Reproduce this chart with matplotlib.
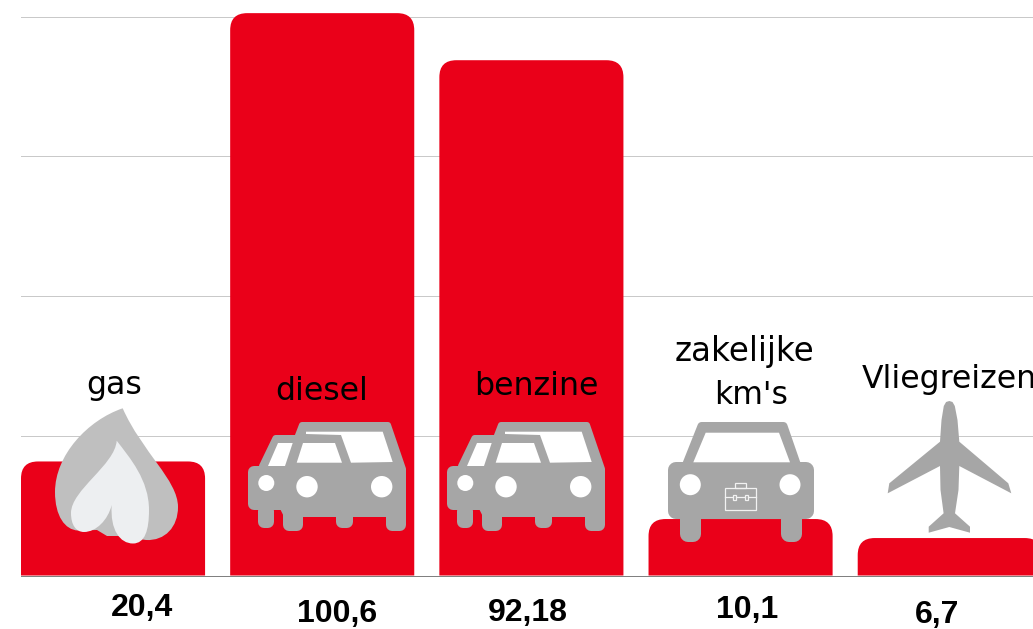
import numpy as np
import matplotlib
matplotlib.use('Agg')
import matplotlib.pyplot as plt
from matplotlib.path import Path
from matplotlib.patches import PathPatch, Polygon, Circle, Rectangle

categories = ['gas', 'diesel', 'benzine', 'zakelijke', "km's", 'Vliegreizen']
values = [20.4, 100.6, 92.18, 10.1, 6.7]
y_ticks = [0, 25, 50, 75, 100]

# where the texts sit (centre x, baseline y), in picture pixels
name_pos = [(114.5, 394), (322, 400.5), (536.5, 395), (745, 360.5), (751, 403.5), (949, 388)]
name_size = [22.7, 22.7, 22.7, 23.5, 22.7, 22.7]
value_pos = [(142, 616), (337.5, 622), (528, 621.5), (747, 618), (937, 622.5)]

RED = '#ea0019'
GREY = '#a6a6a6'
W, H = 1033, 629
BASE = 575.5

fig = plt.figure(figsize=(W / 100, H / 100), dpi=100)
ax = fig.add_axes([21 / W, (H - BASE) / H, (W - 21) / W, BASE / H])
ax.set_xlim(-0.44, 4.398)
ax.set_ylim(0, BASE / 5.59)


def rounded_bar(x, h, width=0.88, r=17):
    rx, ry = r / 209.2, r / 5.59
    l, t = x - width / 2, x + width / 2
    verts = [(l, 0), (l, h - ry), (l, h), (l + rx, h), (t - rx, h), (t, h), (t, h - ry), (t, 0), (l, 0)]
    codes = [Path.MOVETO, Path.LINETO, Path.CURVE3, Path.CURVE3, Path.LINETO, Path.CURVE3, Path.CURVE3, Path.LINETO, Path.CLOSEPOLY]
    return PathPatch(Path(verts, codes), fc=RED, ec='none', zorder=3)


for i, v in enumerate(values):
    ax.add_patch(rounded_bar(i, v))

ax.set_yticks(y_ticks)
ax.set_xticks([])
ax.tick_params(left=False, labelleft=False)
ax.grid(axis='y', color='#c9c9c9', lw=0.72)
ax.set_axisbelow(True)
for s in ['top', 'left', 'right']:
    ax.spines[s].set_visible(False)
ax.spines['bottom'].set_color('#808080')
ax.spines['bottom'].set_linewidth(0.72)

# overlay in picture pixels for the icons and texts
ov = fig.add_axes([0, 0, 1, 1], facecolor='none')
ov.set_xlim(0, W)
ov.set_ylim(H, 0)
ov.axis('off')


def shape(pts, dx=0, color=GREY, r=0, z=5):
    # r is the corner radius in pixels, made with a round stroke
    pts = [(x + dx, y) for x, y in pts]
    ov.add_patch(Polygon(pts, closed=True, fc=color, ec=color if r else 'none', lw=2 * r * 0.72, joinstyle='round', zorder=z))


def rrect(x0, y0, x1, y1, r, dx=0):
    shape([(x0 + r, y0 + r), (x1 - r, y0 + r), (x1 - r, y1 - r), (x0 + r, y1 - r)], dx, r=r)


# flame
M, C, L, Z = Path.MOVETO, Path.CURVE4, Path.LINETO, Path.CLOSEPOLY
outer = [(122.7, 408.3), (88, 420), (55, 455), (55, 492), (55, 516), (65, 530), (78, 530.5), (97, 530), (107, 536), (120, 536),
         (146, 540), (165, 541), (178, 527), (178, 507), (178, 480), (142, 452), (122.7, 408.3)]
outer_c = [M, C, C, C, C, C, C, L, L, L, L, C, C, C, C, C, C]
ov.add_patch(PathPatch(Path(outer, outer_c), fc='#bfbfbf', ec='none', zorder=5))
inner = [(116.7, 440.7), (115, 465), (71, 490), (71, 513), (71, 525), (76, 532), (84, 532), (96, 532), (108, 520), (111.7, 505),
         (110, 530), (120, 543.5), (133, 543.5), (145, 543.5), (149, 530), (149, 510), (149, 480), (130, 458), (116.7, 440.7)]
inner_c = [M] + [C] * 18
ov.add_patch(PathPatch(Path(inner, inner_c), fc='#edeff1', ec='none', zorder=5))


# two cars, drawn for diesel and again for benzine
def two_cars(dx):
    rrect(248, 466, 295, 510, 6, dx)
    shape([(302, 425), (388, 425), (403, 469), (403, 514), (286, 514), (262, 466), (275.5, 438), (297, 438)], dx, r=3)
    for x0, x1, bot in [(258, 274, 528), (283, 303, 531), (336, 353, 528), (385.7, 406, 531)]:
        rrect(x0, 505, x1, bot, 6, dx)
    shape([(268, 466), (278, 443), (292.7, 443), (285, 466)], dx, 'white', z=6)
    shape([(296.7, 462.7), (303, 443), (335, 443), (342, 462.7)], dx, 'white', z=6)
    shape([(306, 431.7), (382.7, 431.7), (392.7, 462), (351, 462.7), (341, 435), (306, 434)], dx, 'white', z=6)
    for cx, cy, rad in [(266.3, 483, 8), (307, 486.7, 10.7), (381.7, 486.7, 10.7)]:
        ov.add_patch(Circle((cx + dx, cy), rad, fc='white', ec='none', zorder=6))


two_cars(0)
two_cars(199)

# single car with briefcase
rrect(668, 462, 814, 519, 8)
shape([(701.5, 426), (783.5, 426), (797, 465), (686, 465)], r=4)
rrect(680, 505, 701, 542, 8)
rrect(781, 505, 802, 542, 8)
shape([(705.7, 432.7), (779, 432.7), (790, 462.3), (693.3, 462.3)], 0, 'white', z=6)
for cx in [690.3, 790]:
    ov.add_patch(Circle((cx, 484.7), 10.5, fc='white', ec='none', zorder=6))
for x0, y0, w, h in [(724.7, 488.3, 31, 21.4), (734.7, 482.7, 11, 5.6), (733, 494.5, 3, 5), (745, 494.5, 3, 5)]:
    ov.add_patch(Rectangle((x0, y0), w, h, fc='none', ec='#f2f2f2', lw=0.9, zorder=6))
ov.plot([724.7, 733], [496.7, 496.7], color='#f2f2f2', lw=0.9, zorder=6)
ov.plot([736, 745], [496.7, 496.7], color='#f2f2f2', lw=0.9, zorder=6)
ov.plot([748, 755.7], [496.7, 496.7], color='#f2f2f2', lw=0.9, zorder=6)

# plane
plane = [(949.3, 401), (952.5, 402), (954.8, 406), (957.5, 420), (959.3, 441.7), (1008.3, 483.3), (1011.3, 493.3), (959.3, 466),
         (958.5, 490), (955, 513.3), (970, 526.7), (970, 532.7), (949.3, 527), (928.7, 532.7), (928.7, 526.7),
         (943.6, 513.3), (940.5, 490), (940, 466), (887.7, 493.3), (889.3, 483.3), (940, 441.7), (941.5, 420), (943.8, 406), (946.1, 402)]
shape(plane)

for name, (px, py), fs in zip(categories, name_pos, name_size):
    ov.text(px, py, name, fontsize=fs, color='black', ha='center', va='baseline', zorder=7,
            family='DejaVu Sans', clip_on=True)

for v, (px, py) in zip(values, value_pos):
    ov.text(px, py, str(v).replace('.', ','), fontsize=23, fontweight='bold', color='black', ha='center', va='baseline',
            family='Liberation Sans', zorder=7)

fig.savefig('out.png', dpi=100)
